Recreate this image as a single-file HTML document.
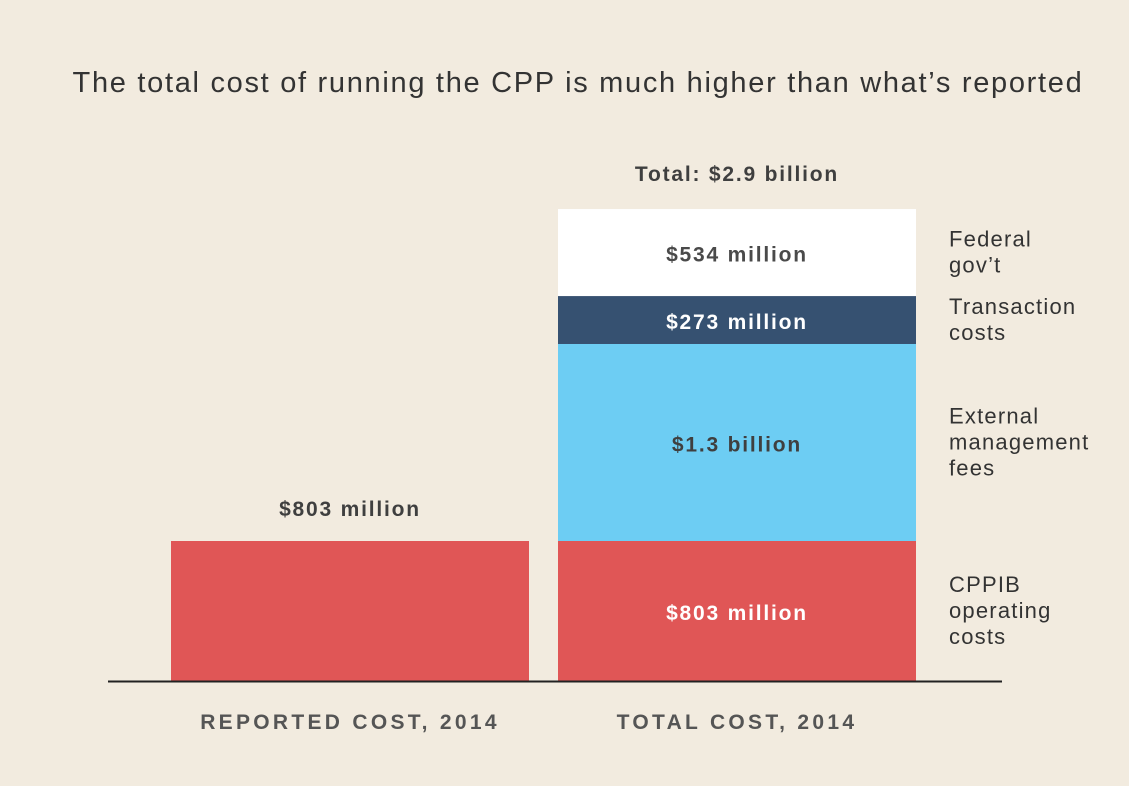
<!DOCTYPE html>
<html><head><meta charset="utf-8"><style>
html,body{margin:0;padding:0;background:#f2ebdf;}
svg{display:block;font-family:"Liberation Sans",sans-serif;}
</style></head><body>
<svg id="chart" width="1129" height="786" viewBox="0 0 1129 786">
<rect width="1129" height="786" fill="#f2ebdf"/>
<text x="578" y="92" text-anchor="middle" font-size="29" letter-spacing="1.7" fill="#333">The total cost of running the CPP is much higher than what’s reported</text>
<g id="bars"></g>
<line x1="108" y1="681.5" x2="1002" y2="681.5" stroke="#222" stroke-width="2"/>
</svg>
<script>
const categories = ["REPORTED COST, 2014", "TOTAL COST, 2014"];
const segmentNames = ["CPPIB operating costs", "External management fees", "Transaction costs", "Federal gov’t"];
const reportedValues = [803];
const totalValues = [803, 1130, 275, 499];
const segmentLabels = ["$803 million", "$1.3 billion", "$273 million", "$534 million"];
const sideLabels = [["CPPIB","operating","costs"],["External","management","fees"],["Transaction","costs"],["Federal","gov’t"]];
const totalLabel = "Total: $2.9 billion";
const reportedLabel = "$803 million";

const colors = ["#e05656", "#6dcdf3", "#365171", "#ffffff"];
const textColors = ["#ffffff", "#3f3f3f", "#ffffff", "#4a4a4a"];
const baseY = 681, pxPer = 140 / 803;
const y = v => baseY - v * pxPer;
const barX = [171, 558], barW = 358;
const g = document.getElementById('bars');
const NS = "http://www.w3.org/2000/svg";
function mk(tag, attrs, txt){const e=document.createElementNS(NS,tag);for(const k in attrs)e.setAttribute(k,attrs[k]);if(txt!==undefined)e.textContent=txt;g.appendChild(e);return e;}

const rTop = y(reportedValues[0]);
let r = mk('rect',{x:barX[0],y:rTop,width:barW,height:baseY-rTop,fill:colors[0]});


let rl = mk('text',{x:barX[0]+barW/2,y:rTop-25,'text-anchor':'middle','font-size':21,'letter-spacing':1.8,'font-weight':'bold',fill:'#3f3f3f'},reportedLabel);



let cum = 0;
totalValues.forEach((v,i)=>{
  const top = y(cum+v), bot = y(cum);
  const rc = mk('rect',{x:barX[1],y:top,width:barW,height:bot-top,fill:colors[i]});
  
  
  const mid = (top+bot)/2;
  const t = mk('text',{x:barX[1]+barW/2,y:mid+9,'text-anchor':'middle','font-size':21,'letter-spacing':1.8,'font-weight':'bold',fill:textColors[i]},segmentLabels[i]);
  
  
  const lines = sideLabels[i];
  const lh = 26, start = mid - (lines.length-1)*lh/2 + 7;
  lines.forEach((ln,j)=>{
    const s = mk('text',{x:949,y:start+j*lh,'font-size':22,'letter-spacing':1.2,fill:'#333'},ln);
    
    
  });
  cum += v;
});
const tl = mk('text',{x:barX[1]+barW/2,y:y(cum)-28,'text-anchor':'middle','font-size':21,'letter-spacing':1.8,'font-weight':'bold',fill:'#3f3f3f'},totalLabel);



categories.forEach((c,i)=>{
  const t = mk('text',{x:barX[i]+barW/2,y:729,'text-anchor':'middle','font-size':21,'font-weight':'bold',fill:'#555','letter-spacing':'3.3'},c);
  
  
});
</script>
</body></html>
